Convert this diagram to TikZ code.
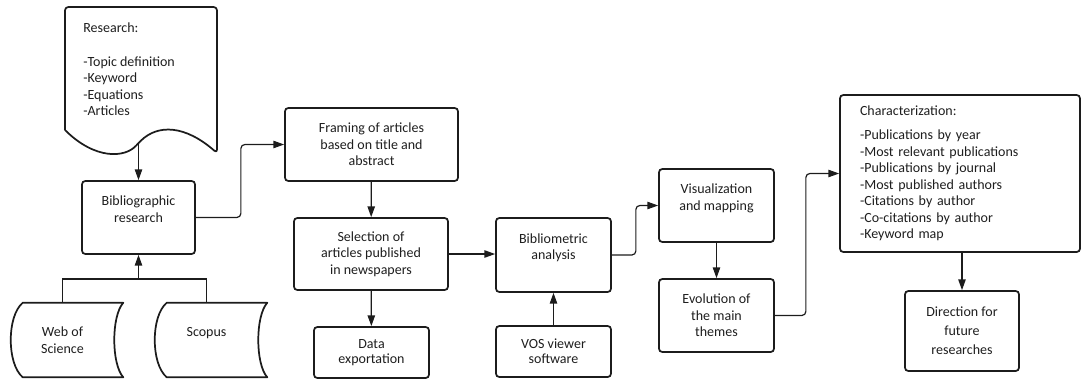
\documentclass[tikz,border=0pt]{standalone}
\usepackage{fontspec}
\setmainfont{Carlito}
\usetikzlibrary{arrows.meta}
\definecolor{ink}{HTML}{1C1C1C}
\definecolor{txt}{HTML}{1E1E1E}

\begin{document}
\begin{tikzpicture}[x=0.75pt,y=-0.75pt,font=\fontsize{10.5}{12.4}\selectfont,
  box/.style={draw=ink,line width=1.3pt,rounded corners=2.5pt,align=center,inner sep=2pt,text=txt},
  dbtext/.style={align=center,inner sep=0pt,text=txt,minimum width=77.25pt,minimum height=55.5pt},
  outline/.style={draw=ink,line width=1.3pt,line join=round},
  flow/.style={-{Triangle[length=8pt,width=5.5pt]},line width=0.9pt,ink,rounded corners=3pt},
  link/.style={line width=0.9pt,ink}]
  \useasboundingbox (0,0) rectangle (1083,380);

  % ===== research document =====
  \draw[outline,rounded corners=2.5pt] (65,130) -- (65,7) -- (217,7) -- (217,153)
    .. controls (185,125) and (158,124) .. (138.5,143)
    .. controls (125,158) and (95,160) .. (65,130);
  \node[anchor=north west,align=left,inner sep=0pt,text=txt] (research) at (83,23)
    {Research:\\[12.4pt]-Topic definition\\-Keyword\\-Equations\\-Articles};
  \coordinate (docwave) at (138.5,143);

  % ===== sources =====
  \node[dbtext] (wos) at (62.5,340) {Web of\\Science};
  \draw[outline] ([xshift=9pt]wos.north west) -- ([xshift=6.75pt]wos.north east)
    .. controls +(-9pt,-10pt) and +(-9pt,10pt) .. ([xshift=6.75pt]wos.south east)
    -- ([xshift=9pt]wos.south west)
    .. controls +(-12pt,10pt) and +(-12pt,-10pt) .. cycle;
  \node[dbtext] (scopus) at (206.5,340) {Scopus\\\mbox{}};
  \draw[outline] ([xshift=9pt]scopus.north west) -- ([xshift=6.75pt]scopus.north east)
    .. controls +(-9pt,-10pt) and +(-9pt,10pt) .. ([xshift=6.75pt]scopus.south east)
    -- ([xshift=9pt]scopus.south west)
    .. controls +(-12pt,10pt) and +(-12pt,-10pt) .. cycle;

  % ===== process boxes =====
  \node[box,minimum width=84.75pt,minimum height=54.75pt] (biblio) at (138.5,217.5) {Bibliographic\\research\\\mbox{}};
  \node[box,minimum width=129.75pt,minimum height=54.75pt] (framing) at (371.5,144.5) {Framing of articles\\based on title and\\abstract};
  \node[box,minimum width=115.5pt,minimum height=54pt] (select) at (371,254) {Selection of\\articles published\\in newspapers};
  \node[box,minimum width=86.25pt,minimum height=38.25pt,font=\fontsize{10.5}{11}\selectfont] (export) at (371.5,352.5) {Data\\exportation};
  \node[box,minimum width=86.25pt,minimum height=55.5pt] (bibana) at (553.5,255) {Bibliometric\\analysis\\\mbox{}};
  \node[box,minimum width=86.25pt,minimum height=38.25pt,font=\fontsize{10.5}{11}\selectfont] (vos) at (553.5,351.5) {VOS viewer\\software};
  \node[box,minimum width=86.25pt,minimum height=54.75pt] (vis) at (716.5,205.5) {Visualization\\and mapping\\\mbox{}};
  \node[box,minimum width=86.25pt,minimum height=54.75pt] (evo) at (716.5,315.5) {Evolution of\\the main\\themes};
  \node[box,align=left,text width=150pt,inner xsep=15pt,minimum height=117.75pt] (charac) at (960,173.5)
    {Characterization:\\[5.5pt]-Publications by year\\-Most relevant publications\\-Publications by journal\\-Most published authors\\-Citations by author\\-Co-citations by author\\-Keyword map};
  \node[box,minimum width=85.5pt,minimum height=60pt,font=\fontsize{10.5}{14.2}\selectfont] (direction) at (962,331) {Direction for\\future\\researches};

  % ===== connectors =====
  \draw[flow] (docwave) -- (biblio.north);
  \coordinate (join) at (138.5,279);
  \draw[link] (wos.north) |- (join) -| (scopus.north);
  \draw[flow] (join) -- (biblio.south);
  \draw[flow] (biblio.east) -- ++(45,0) |- (framing.west);
  \draw[flow] (framing) -- (select);
  \draw[flow] (select) -- (export);
  \draw[flow] (select.east) -- (select.east -| bibana.west);
  \draw[flow] (vos) -- (bibana);
  \draw[flow] (bibana.east) -- ++(24,0) |- (vis.west);
  \draw[flow] (vis) -- (evo);
  \draw[flow] (evo.east) -- ++(31,0) |- (charac.west);
  \draw[flow] (direction.north |- charac.south) -- (direction.north);
\end{tikzpicture}
\end{document}
